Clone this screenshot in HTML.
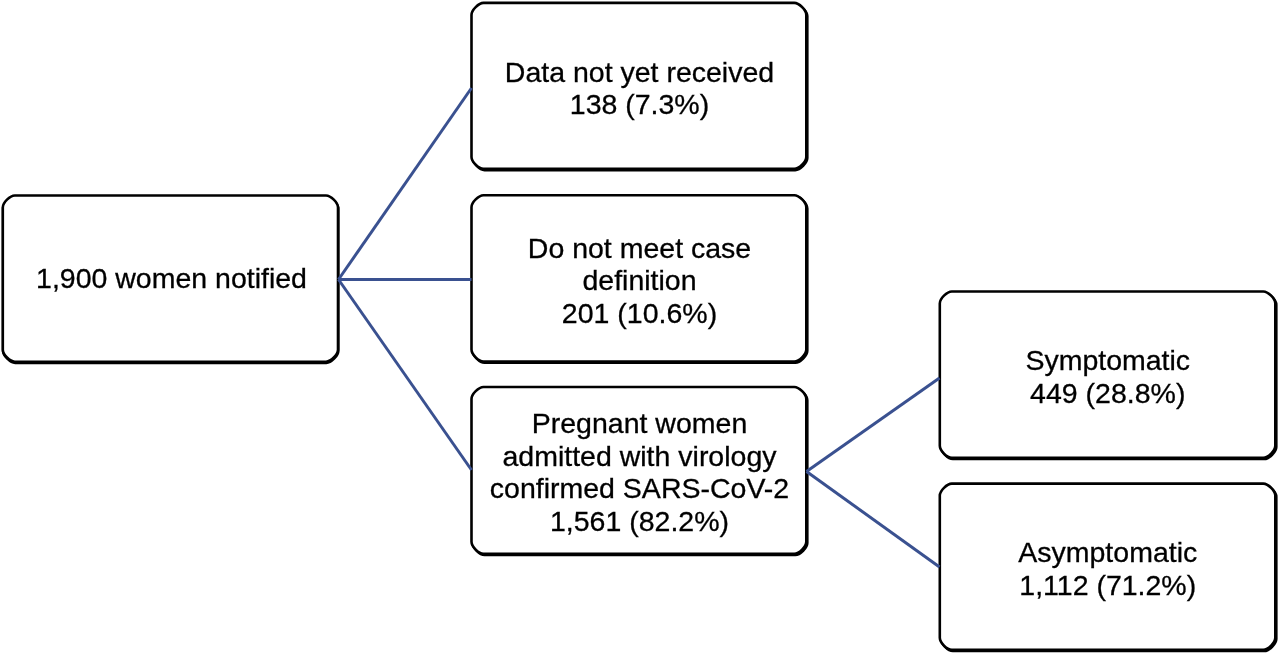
<!DOCTYPE html>
<html><head><meta charset="utf-8">
<style>
html,body{margin:0;padding:0;background:#fff;}
body{width:1280px;height:655px;position:relative;overflow:hidden;font-family:"Liberation Sans",sans-serif;}
svg{position:absolute;left:0;top:0;z-index:2;}
svg.bx{z-index:0;}
.b{position:absolute;box-sizing:border-box;border:3px solid transparent;border-bottom-width:4px;border-radius:14px;background:transparent;z-index:1;display:flex;align-items:center;justify-content:center;text-align:center;font-size:28.5px;line-height:32.5px;color:#000;padding-top:3.5px;padding-left:1px;will-change:transform;-webkit-text-stroke:0.3px #000;}
</style></head><body>
<svg class="bx" width="1280" height="655" viewBox="0 0 1280 655">
<g fill="none" stroke="#000" stroke-width="2.6"><path d="M15.10,196.70H326.30C331.10,196.70 338.30,203.90 338.30,208.70V350.90C338.30,355.70 331.10,362.90 326.30,362.90H15.10C10.30,362.90 3.10,355.70 3.10,350.90V208.70C3.10,203.90 10.30,196.70 15.10,196.70Z"/><path d="M484.50,4.10H795.30C800.10,4.10 807.30,11.30 807.30,16.10V158.10C807.30,162.90 800.10,170.10 795.30,170.10H484.50C479.70,170.10 472.50,162.90 472.50,158.10V16.10C472.50,11.30 479.70,4.10 484.50,4.10Z"/><path d="M484.50,196.40H795.30C800.10,196.40 807.30,203.60 807.30,208.40V350.70C807.30,355.50 800.10,362.70 795.30,362.70H484.50C479.70,362.70 472.50,355.50 472.50,350.70V208.40C472.50,203.60 479.70,196.40 484.50,196.40Z"/><path d="M484.50,388.20H795.30C800.10,388.20 807.30,395.40 807.30,400.20V543.00C807.30,547.80 800.10,555.00 795.30,555.00H484.50C479.70,555.00 472.50,547.80 472.50,543.00V400.20C472.50,395.40 479.70,388.20 484.50,388.20Z"/><path d="M952.80,292.70H1264.30C1269.10,292.70 1276.30,299.90 1276.30,304.70V447.00C1276.30,451.80 1269.10,459.00 1264.30,459.00H952.80C948.00,459.00 940.80,451.80 940.80,447.00V304.70C940.80,299.90 948.00,292.70 952.80,292.70Z"/><path d="M952.80,484.80H1264.30C1269.10,484.80 1276.30,492.00 1276.30,496.80V639.00C1276.30,643.80 1269.10,651.00 1264.30,651.00H952.80C948.00,651.00 940.80,643.80 940.80,639.00V496.80C940.80,492.00 948.00,484.80 952.80,484.80Z"/></g>
<g fill="#fff" stroke="#000" stroke-width="2.6"><path d="M14.80,195.50H326.00C330.80,195.50 338.00,202.70 338.00,207.50V349.70C338.00,354.50 330.80,361.70 326.00,361.70H14.80C10.00,361.70 2.80,354.50 2.80,349.70V207.50C2.80,202.70 10.00,195.50 14.80,195.50Z"/><path d="M483.50,2.90H794.30C799.10,2.90 806.30,10.10 806.30,14.90V156.90C806.30,161.70 799.10,168.90 794.30,168.90H483.50C478.70,168.90 471.50,161.70 471.50,156.90V14.90C471.50,10.10 478.70,2.90 483.50,2.90Z"/><path d="M483.50,195.20H794.30C799.10,195.20 806.30,202.40 806.30,207.20V349.50C806.30,354.30 799.10,361.50 794.30,361.50H483.50C478.70,361.50 471.50,354.30 471.50,349.50V207.20C471.50,202.40 478.70,195.20 483.50,195.20Z"/><path d="M483.50,387.00H794.30C799.10,387.00 806.30,394.20 806.30,399.00V541.80C806.30,546.60 799.10,553.80 794.30,553.80H483.50C478.70,553.80 471.50,546.60 471.50,541.80V399.00C471.50,394.20 478.70,387.00 483.50,387.00Z"/><path d="M951.80,291.50H1263.30C1268.10,291.50 1275.30,298.70 1275.30,303.50V445.80C1275.30,450.60 1268.10,457.80 1263.30,457.80H951.80C947.00,457.80 939.80,450.60 939.80,445.80V303.50C939.80,298.70 947.00,291.50 951.80,291.50Z"/><path d="M951.80,483.60H1263.30C1268.10,483.60 1275.30,490.80 1275.30,495.60V637.80C1275.30,642.60 1268.10,649.80 1263.30,649.80H951.80C947.00,649.80 939.80,642.60 939.80,637.80V495.60C939.80,490.80 947.00,483.60 951.80,483.60Z"/></g>
</svg>

<div class="b" style="padding-top:0;padding-bottom:1.5px;left:1.5px;top:194px;width:338px;height:170.5px;">1,900 women notified</div>
<div class="b" style="border-right-width:4px;left:470px;top:1.5px;width:339px;height:170px;">Data not yet received<br>138 (7.3%)</div>
<div class="b" style="border-right-width:4px;left:470px;top:194px;width:339px;height:170px;">Do not meet case<br>definition<br>201 (10.6%)</div>
<div class="b" style="border-right-width:4px;left:470px;top:386px;width:339px;height:170px;">Pregnant women<br>admitted with virology<br>confirmed SARS-CoV-2<br>1,561 (82.2%)</div>
<div class="b" style="border-right-width:4px;left:938px;top:290px;width:339.5px;height:170.5px;">Symptomatic<br>449 (28.8%)</div>
<div class="b" style="border-right-width:4px;left:938px;top:482px;width:339.5px;height:170.5px;">Asymptomatic<br>1,112 (71.2%)</div>
<svg width="1280" height="655" viewBox="0 0 1280 655">
<g stroke="#3a5190" stroke-width="3" fill="none">
<line x1="338.5" y1="279.5" x2="471.5" y2="88"/>
<line x1="338.5" y1="279.5" x2="471.5" y2="279.5"/>
<line x1="338.5" y1="279.5" x2="471.5" y2="470"/>
<line x1="806.5" y1="471.5" x2="939.5" y2="378"/>
<line x1="806.5" y1="471.5" x2="939.5" y2="567"/>
</g>
</svg>
</body></html>
